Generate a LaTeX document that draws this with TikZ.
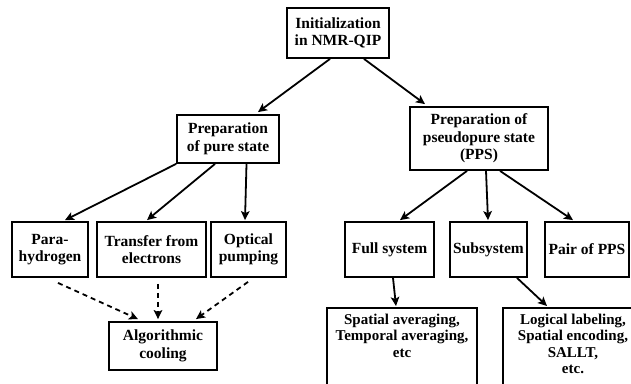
\documentclass[tikz,border=0pt]{standalone}
\usepackage{fontspec}
\setmainfont{Liberation Serif}
\usetikzlibrary{arrows.meta,calc}
\begin{document}
\begin{tikzpicture}[x=1pt,y=-1pt,
    box/.style={draw, line width=1.8pt, align=center, inner xsep=0pt, inner ysep=0pt,
      font=\fontsize{15.5}{17.5}\selectfont\bfseries},
    tallbox/.style={box, anchor=north, inner ysep=6pt, text depth=80pt,
      font=\fontsize{15}{16.5}\selectfont\bfseries},
    arr/.style={line width=1.8pt, -{Stealth[length=9pt,width=8.5pt,inset=2pt]}},
    darr/.style={arr, dash pattern=on 5pt off 4pt}]
  \clip (0,0) rectangle (631,383);
  % top levels
  \node[box, minimum width=102, minimum height=50] (init) at (338,33) {Initialization\\in NMR-QIP};
  \node[box, minimum width=102, minimum height=48] (pure) at (228,139) {Preparation\\of pure state};
  \node[box, minimum width=138, minimum height=63] (pps) at (479,138.5) {Preparation of\\pseudopure state\\(PPS)};
  % pure state methods
  \node[box, minimum width=76, minimum height=55] (para) at (50,249.5) {Para-\\hydrogen};
  \node[box, minimum width=109, minimum height=55] (transfer) at (151.5,249.5) {Transfer from\\electrons};
  \node[box, minimum width=75, minimum height=55] (optical) at (248.5,249.5) {Optical\\pumping};
  \node[box, minimum width=108, minimum height=48] (algo) at (163,346) {Algorithmic\\cooling};
  % pseudopure state methods
  \node[box, minimum width=89, minimum height=55] (full) at (389.5,249.5) {Full system};
  \node[box, minimum width=77, minimum height=55] (subsys) at (488.5,249.5) {Subsystem};
  \node[box, minimum width=84, minimum height=55] (pair) at (587,249.5) {Pair of PPS};
  \node[tallbox, minimum width=150] (spatial) at (402,307) {Spatial averaging,\\Temporal averaging,\\etc};
  \node[tallbox, minimum width=140] (logical) at (573,307) {Logical labeling,\\Spatial encoding,\\SALLT,\\etc.};
  % connectors
  \draw[arr] ($(init.south)+(-8,0)$) -- ($(pure.north)+(30,-2)$);
  \draw[arr] ($(init.south)+(26,0)$) -- ($(pps.north)+(-54,-2)$);
  \draw[arr] (pure.south west) -- ($(para.north)+(15,-1)$);
  \draw[arr] ($(pure.south)+(-13,0)$) -- ($(transfer.north)+(-4.5,-1)$);
  \draw[arr] ($(pure.south)+(18.5,0)$) -- ($(optical.north)+(-3.5,-1)$);
  \draw[darr] ($(para.south)+(8,5)$) -- ($(algo.north)+(-25,-2)$);
  \draw[darr] ($(transfer.south)+(6.5,6)$) -- ($(algo.north)+(-5,-2)$);
  \draw[darr] ($(optical.south)+(-0.5,4)$) -- ($(algo.north)+(33,-2)$);
  \draw[arr] ($(pps.south)+(-12,0)$) -- ($(full.north)+(10.5,-1)$);
  \draw[arr] ($(pps.south)+(7,0)$) -- ($(subsys.north)+(-0.5,-1)$);
  \draw[arr] ($(pps.south)+(21,0)$) -- ($(pair.north)+(-14,-1)$);
  \draw[arr] ($(full.south)+(3.5,0)$) -- ($(spatial.north)+(-6,-1)$);
  \draw[arr] ($(subsys.south)+(28.5,0)$) -- ($(logical.north)+(-26,-1)$);
\end{tikzpicture}
\end{document}
